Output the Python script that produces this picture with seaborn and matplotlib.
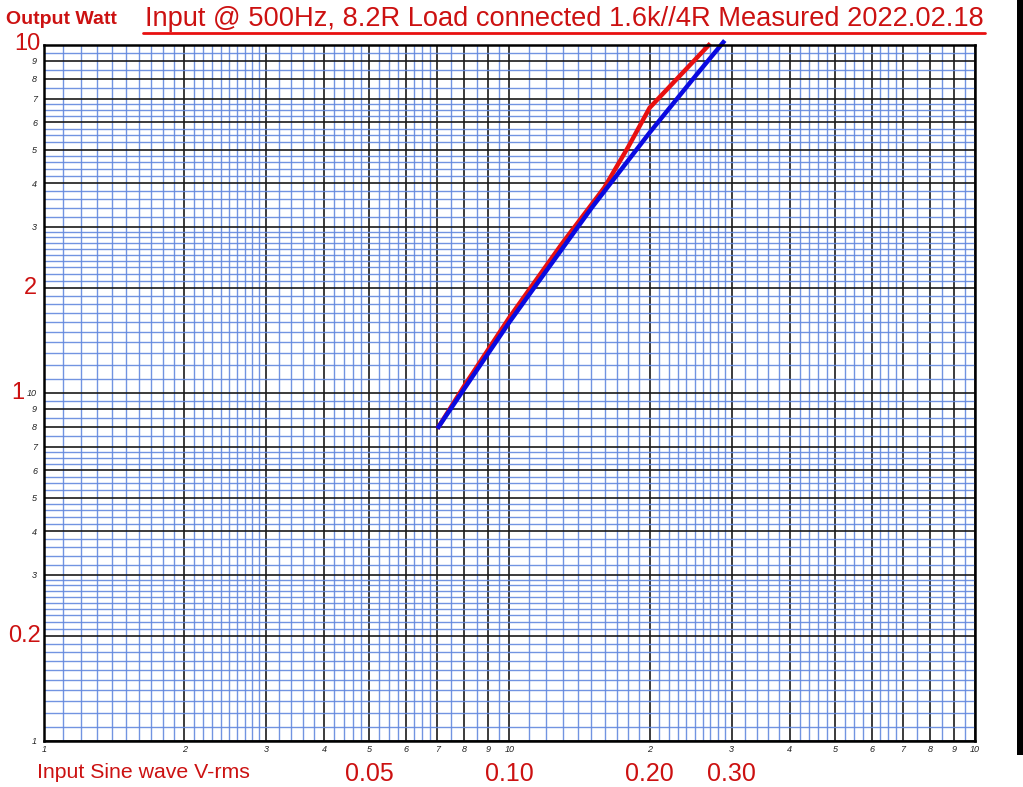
import numpy as np
import pandas as pd
import matplotlib
matplotlib.use("Agg")
import matplotlib.pyplot as plt
import seaborn as sns
from matplotlib.lines import Line2D
from matplotlib.patches import Rectangle

# ---- data ----
x_red = [0.07, 0.08, 0.10, 0.13, 0.16, 0.18, 0.20, 0.27]
p_red = [0.79, 1.05, 1.65, 2.70, 3.90, 5.10, 6.60, 10.1]
x_blue = [0.07, 0.08, 0.10, 0.15, 0.20, 0.25, 0.29]
p_blue = [0.79, 1.03, 1.60, 3.40, 5.60, 8.10, 10.3]

title_text = "Input @ 500Hz, 8.2R Load connected 1.6k//4R Measured 2022.02.18"
ylabel_text = "Output Watt"
xlabel_text = "Input Sine wave V-rms"
x_red_labels = ["0.05", "0.10", "0.20", "0.30"]
x_red_label_vals = [0.05, 0.10, 0.20, 0.30]
y_red_labels = ["10", "2", "1", "0.2"]
y_red_label_vals = [10, 2, 1, 0.2]

# graph-paper ticks
major_mult = [1, 2, 3, 4, 5, 6, 7, 8, 9]
minor_mult = ([1.1, 1.2, 1.3, 1.4, 1.5, 1.6, 1.7, 1.8, 1.9,
               2.1, 2.2, 2.3, 2.4, 2.5, 2.6, 2.7, 2.8, 2.9,
               3.2, 3.4, 3.6, 3.8, 4.2, 4.4, 4.6, 4.8,
               5.25, 5.5, 5.75, 6.25, 6.5, 6.75, 7.5, 8.5, 9.5])
x_major = [m * d for d in (0.01, 0.1) for m in major_mult] + [1.0]
x_minor = [m * d for d in (0.01, 0.1) for m in minor_mult]
y_major = [m * d for d in (0.1, 1.0) for m in major_mult] + [10.0]
y_minor = [m * d for d in (0.1, 1.0) for m in minor_mult]
x_tick_labels = ["1", "2", "3", "4", "5", "6", "7", "8", "9", "10",
                 "2", "3", "4", "5", "6", "7", "8", "9", "10"]
y_tick_labels = ["1", "", "3", "4", "5", "6", "7", "8", "9", "10",
                 "", "3", "4", "5", "6", "7", "8", "9", ""]

df = pd.DataFrame({
    "V": x_red + x_blue,
    "W": p_red + p_blue,
    "series": ["red"] * len(x_red) + ["blue"] * len(x_blue),
})

sns.set_style("white")
plt.rcParams["font.family"] = ["Liberation Sans", "DejaVu Sans"]

W, H = 1023, 787
fig = plt.figure(figsize=(W / 100, H / 100), dpi=100)
fig.patch.set_facecolor("white")
ax = fig.add_axes([44 / W, 1 - 741 / H, (975 - 44) / W, (741 - 45) / H])
ax.set_xscale("log")
ax.set_yscale("log")
ax.set_xlim(0.01, 1.0)
ax.set_ylim(0.1, 10.0)

ax.set_xticks(x_major)
ax.set_xticklabels(x_tick_labels)
ax.set_yticks(y_major)
ax.set_yticklabels(y_tick_labels)
ax.set_xticks(x_minor, minor=True)
ax.set_yticks(y_minor, minor=True)
ax.set_xticklabels([], minor=True)
ax.set_yticklabels([], minor=True)
ax.tick_params(which="both", length=0)
ax.tick_params(axis="x", which="major", labelsize=6.5, pad=3)
ax.tick_params(axis="y", which="major", labelsize=6.5, pad=5)
for lab in ax.get_xticklabels() + ax.get_yticklabels():
    lab.set_fontstyle("italic")
    lab.set_color("#222222")

ax.grid(which="minor", color="#6388de", linewidth=1.0, alpha=0.9)
ax.grid(which="major", color="#1a1a1a", linewidth=1.2)
ax.set_axisbelow(True)
for s in ax.spines.values():
    s.set_color("black")
    s.set_linewidth(1.8)

sns.lineplot(data=df, x="V", y="W", hue="series", hue_order=["red", "blue"],
             palette={"red": "#e81010", "blue": "#0a0ae0"}, estimator=None,
             linewidth=3.2, legend=False, ax=ax, sort=False)
for ln in ax.get_lines():
    ln.set_clip_on(False)
    ln.set_solid_capstyle("butt")
ax.set_xlabel("")
ax.set_ylabel("")

red = "#cc1111"
# titles
fig.text(6 / W, 1 - 19 / H, ylabel_text, color=red, fontsize=14, fontweight="bold",
         va="center", ha="left")
fig.text(564 / W, 1 - 19 / H, title_text, color=red, fontsize=19.6, va="center", ha="center")
fig.add_artist(Line2D([143 / W, 985 / W], [1 - 33 / H, 1 - 33 / H], color="#e81010", linewidth=2))
fig.text(37 / W, 1 - 773 / H, xlabel_text, color=red, fontsize=15.3, va="center", ha="left")

# red value labels along the axes
for v, t in zip(x_red_label_vals, x_red_labels):
    ax.annotate(t, xy=(v, 0), xycoords=("data", "axes fraction"), xytext=(0, -24),
                textcoords="offset points", color=red, fontsize=18, ha="center", va="center")
y_off = {"10": (-12, 1), "2": (-10, 0), "1": (-18.5, 0), "0.2": (-14, 0)}
for v, t in zip(y_red_label_vals, y_red_labels):
    ax.annotate(t, xy=(0, v), xycoords=("axes fraction", "data"), xytext=y_off[t],
                textcoords="offset points", color=red, fontsize=17, ha="center", va="center")

# black strip at right edge of the scan
fig.add_artist(Rectangle((1017 / W, 1 - 755 / H), 6 / W, 755 / H, transform=fig.transFigure,
                         color="black", linewidth=0))

fig.savefig("out.png", dpi=100)
